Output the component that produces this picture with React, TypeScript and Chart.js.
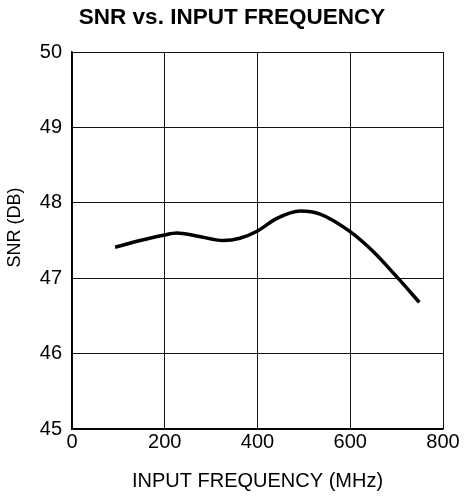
import React, { useEffect, useRef } from "react";
import { Chart, registerables } from "chart.js";

Chart.register(...registerables);

const freqMHz = [93, 147, 197, 226, 269, 326, 362, 398, 441, 492, 535, 599, 650, 700, 749];
const snrDb = [47.41, 47.5, 47.57, 47.6, 47.56, 47.5, 47.53, 47.62, 47.79, 47.89, 47.85, 47.62, 47.35, 47.02, 46.68];
const xTicks = [0, 200, 400, 600, 800];
const yTicks = [45, 46, 47, 48, 49, 50];
const yAxisTitle = "SNR (DB)";

const FONT = "'Liberation Sans', Arial, Helvetica, sans-serif";

const layoutTweaks = {
  id: "layoutTweaks",
  afterLayout(chart: any) {
    const t = chart.titleBlock;
    if (t) {
      t.left = 0;
      t.right = chart.width;
      t.width = chart.width;
    }
  },
  afterDraw(chart: any) {
    const ctx = chart.ctx;
    const area = chart.chartArea;
    ctx.save();
    ctx.fillStyle = "#000";
    ctx.font = `18px ${FONT}`;
    ctx.textAlign = "center";
    ctx.textBaseline = "middle";
    ctx.translate(15, (area.top + area.bottom) / 2 - 13);
    ctx.rotate(-Math.PI / 2);
    ctx.fillText(yAxisTitle, 0, 0);
    ctx.restore();
  },
};

export default function App() {
  const ref = useRef<HTMLCanvasElement | null>(null);
  useEffect(() => {
    document.body.style.margin = "0";
    if (!ref.current) return;
    const chart = new Chart(ref.current, {
      type: "line",
      data: {
        datasets: [
          {
            data: freqMHz.map((x, i) => ({ x, y: snrDb[i] })),
            borderColor: "#000",
            borderWidth: 3.5,
            pointRadius: 0,
            cubicInterpolationMode: "monotone",
            fill: false,
          },
        ],
      },
      plugins: [layoutTweaks],
      options: {
        animation: false,
        responsive: false,
        layout: { padding: { top: 0, left: 0, right: 21, bottom: 0 } },
        plugins: {
          legend: { display: false },
          tooltip: { enabled: false },
          title: {
            display: true,
            text: "SNR vs. INPUT FREQUENCY",
            color: "#000",
            font: { family: FONT, size: 22.5, weight: "bold" },
            padding: { top: 4, bottom: 21 },
          },
        },
        scales: {
          x: {
            type: "linear",
            min: 0,
            max: 800,
            afterFit: (s: any) => {
              s.height = 71;
            },
            afterBuildTicks: (s: any) => {
              s.ticks = xTicks.map((v) => ({ value: v }));
            },
            ticks: {
              color: "#000",
              font: { family: FONT, size: 20 },
              padding: 1,
              maxRotation: 0,
            },
            grid: { color: "#111", lineWidth: 1, drawTicks: false },
            border: { display: true, color: "#000", width: 1.5 },
            title: {
              display: true,
              text: "INPUT FREQUENCY (MHz)",
              color: "#000",
              font: { family: FONT, size: 20 },
              padding: { top: 0, bottom: 7 },
            },
          },
          y: {
            type: "linear",
            min: 45,
            max: 50,
            afterFit: (s: any) => {
              s.width = 72;
            },
            afterBuildTicks: (s: any) => {
              s.ticks = yTicks.map((v) => ({ value: v }));
            },
            ticks: {
              color: "#000",
              font: { family: FONT, size: 20 },
              padding: 10,
            },
            grid: { color: "#111", lineWidth: 1, drawTicks: false },
            border: { display: true, color: "#000", width: 1.5 },
            title: { display: false },
          },
        },
      },
    });
    return () => chart.destroy();
  }, []);
  return (
    <div style={{ width: 464, height: 500, background: "#fff" }}>
      <canvas ref={ref} width={464} height={500} style={{ display: "block" }} />
    </div>
  );
}
